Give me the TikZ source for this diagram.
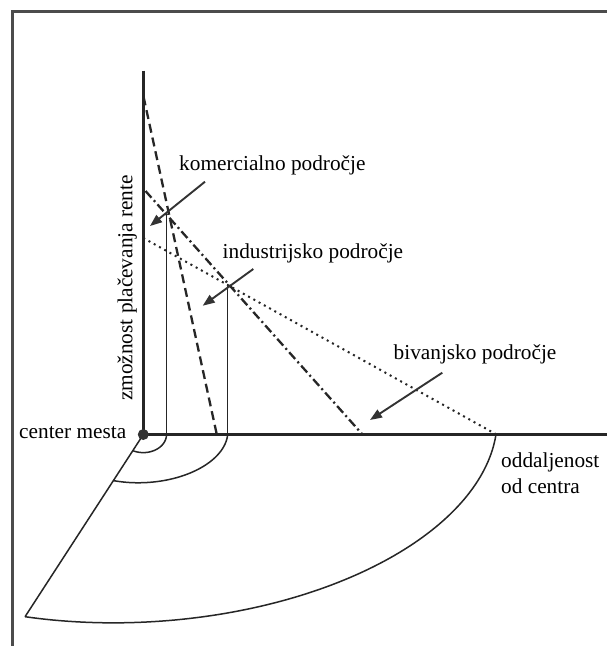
\documentclass[tikz,border=0pt]{standalone}
\usepackage{fontspec}
\setmainfont{Liberation Serif}
\usetikzlibrary{arrows.meta}
\begin{document}
\begin{tikzpicture}[x=1pt,y=-1pt,
  frameline/.style={line width=2.6pt, black!70},
  axisline/.style={line width=2.4pt, black!85},
  thinline/.style={line width=1.3pt, black!85},
  arcline/.style={line width=1.5pt, black!85},
  comline/.style={line width=2.3pt, black!85, dash pattern=on 9pt off 5pt},
  indline/.style={line width=2.3pt, black!85, dash pattern=on 9pt off 3.5pt on 2pt off 3.5pt},
  resline/.style={line width=2pt, black!85, dash pattern=on 2pt off 4pt},
  pointer/.style={line width=1.9pt, black!80, -{Triangle[length=12pt,width=9pt]}},
  lbl/.style={inner sep=0pt, font=\fontsize{21.3}{26}\selectfont, text=black}
]
\useasboundingbox (0,0) rectangle (607,646);
\fill[white] (0,0) rectangle (607,646);

% frame
\coordinate (fbl) at (12.5,660);
\coordinate (ftl) at (12.5,11.7);
\coordinate (ftr) at (620,11.7);
\draw[frameline] (fbl) -- (ftl) -- (ftr);

% key points
\coordinate (O) at (143.3,434.5);
\coordinate (Ytop) at (143.3,70.7);
\coordinate (Xend) at (620,434.5);
\coordinate (Lend) at ({143.3+352.7*(cos(104.66)-0.085*sin(104.66))},{434.5+352.7*0.534*sin(104.66)});

% ground sector
\draw[arcline] plot[domain=0:104.66, samples=90] ({143.3+352.7*(cos(\x)-0.085*sin(\x))},{434.5+352.7*0.534*sin(\x)});
\draw[arcline] plot[domain=0:107.3, samples=50] ({143.3+84.4*(cos(\x)-0.06*sin(\x))},{434.5+84.4*0.572*sin(\x)});
\draw[arcline] plot[domain=0:116.8, samples=40] ({143.3+23.2*cos(\x)},{434.5+23.2*0.78*sin(\x)});
\draw[arcline] (O) -- (Lend);

% bid-rent lines
\coordinate (c1) at (143.5,96.5);  \coordinate (c2) at (216.8,434.5);
\coordinate (i1) at (145.5,191);   \coordinate (i2) at (362.5,434.5);
\coordinate (r1) at (143.3,238);   \coordinate (r2) at (496.5,434.5);
\draw[comline] (c1) -- (c2);
\draw[indline] (i1) -- (i2);
\draw[resline] (r1) -- (r2);

% boundaries
\coordinate (v1t) at (166.5,214.6); \coordinate (v1b) at (166.5,434.5);
\coordinate (v2t) at (227.7,283.5); \coordinate (v2b) at (227.7,434.5);
\draw[thinline] (v1t) -- (v1b);
\draw[thinline] (v2t) -- (v2b);

% axes
\draw[axisline] (Ytop) -- (O) -- (Xend);
\node[circle, fill=black!80, minimum size=11pt, inner sep=0pt] (cdot) at (O) {};

% labels
\node[lbl, anchor=base west] (kom) at (179,170.7) {komercialno področje};
\node[lbl, anchor=base west] (ind) at (222.5,258.5) {industrijsko področje};
\node[lbl, anchor=base west] (biv) at (393.5,359.3) {bivanjsko področje};
\node[lbl, anchor=base west] (cen) at (19,438.3) {center mesta};
\node[lbl, anchor=north west, align=left] (odd) at (501,452.5) {oddaljenost\\od centra};
\node[lbl, rotate=90, anchor=base] (rent) at (132.3,288) {zmožnost plačevanja rente};

% pointers
\coordinate (a1s) at (205,181.7);   \coordinate (a1e) at (150,226);
\coordinate (a2s) at (253.3,269);   \coordinate (a2e) at (202.7,305.7);
\coordinate (a3s) at (442.3,372.7); \coordinate (a3e) at (370,420);
\draw[pointer] (a1s) -- (a1e);
\draw[pointer] (a2s) -- (a2e);
\draw[pointer] (a3s) -- (a3e);
\end{tikzpicture}
\end{document}
